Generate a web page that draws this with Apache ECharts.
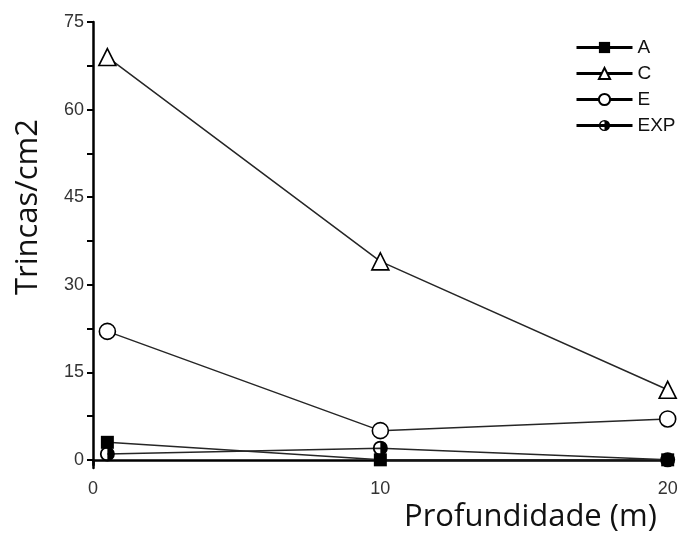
<!DOCTYPE html>
<html><head><meta charset="utf-8">
<script src="https://cdn.jsdelivr.net/npm/echarts@6/dist/echarts.min.js"></script>
<style>html,body{margin:0;padding:0;background:#fff}#c{width:689px;height:544px}</style>
</head><body><div id="c"></div>
<script>
const depths = [0.5, 10, 20];
const seriesNames = ['A', 'C', 'E', 'EXP'];
const valuesA = [3, 0, 0];
const valuesC = [69, 34, 12];
const valuesE = [22, 5, 7];
const valuesEXP = [1, 2, 0];
const yTickLabels = [0, 15, 30, 45, 60, 75];
const yTicks = [0, 7.5, 15, 22.5, 30, 37.5, 45, 52.5, 60, 67.5, 75];
const xTickLabels = [0, 10, 20];

const halfCircle = 'path://M10 0A10 10 0 1 1 10 20A10 10 0 1 1 10 0Z M10 2.4A7.6 7.6 0 1 0 10 17.6A7.6 7.6 0 1 0 10 2.4Z M10 0A10 10 0 0 1 10 20Z';

function pts(vals){ return depths.map((d,i)=>[d, vals[i]]); }
const lineStyle = {color:'#262626', width:1.5};
function mk(name, vals, symbol, fill, size){
  return {name, type:'line', data:pts(vals), symbol, symbolSize:size,
    lineStyle, itemStyle:{color:fill, borderColor:'#000', borderWidth: fill==='#fff'?1.6:0},
    emphasis:{disabled:true}, animation:false, z: 3};
}
const chart = echarts.init(document.getElementById('c'));
chart.setOption({
  animation:false,
  grid:{left:93, right:17, top:22, bottom:76},
  legend:{
    left: 570, top: 33, orient:'vertical', itemWidth:56, itemHeight:14, itemGap:7,
    lineStyle:{width:3, color:'#000'},
    textStyle:{fontFamily:'Liberation Sans', fontSize:19, color:'#111'},
    data: seriesNames
  },
  xAxis:{type:'value', min:0, max:20.15,
    axisLine:{lineStyle:{color:'#000', width:2.5}},
    axisTick:{customValues:xTickLabels, length:6, lineStyle:{color:'#000', width:2.5}},
    axisLabel:{customValues:xTickLabels, fontFamily:'Liberation Sans', fontSize:18, color:'#333', margin:12},
    splitLine:{show:false}},
  yAxis:{type:'value', min:-1.4, max:75,
    axisLine:{show:true, lineStyle:{color:'#000', width:2.5}},
    axisTick:{show:true, customValues:yTicks, length:6, lineStyle:{color:'#000', width:2}},
    axisLabel:{customValues:yTickLabels, fontFamily:'Liberation Sans', fontSize:18, color:'#333', margin:9},
    splitLine:{show:false}},
  graphic:[
    {type:'text', left:13, top:119, rotation:Math.PI/2, style:{text:'Trincas/cm2', font:'31px "Open Sans"', fill:'#111'}},
    {type:'text', left:404, top:502, style:{text:'Profundidade (m)', font:'31px "Open Sans"', fill:'#111'}}
  ],
  series:[
    mk('A', valuesA, 'rect', '#000', 13),
    mk('C', valuesC, 'triangle', '#fff', 17),
    mk('E', valuesE, 'circle', '#fff', 16),
    mk('EXP', valuesEXP, halfCircle, '#000', 15)
  ]
});
</script></body></html>
